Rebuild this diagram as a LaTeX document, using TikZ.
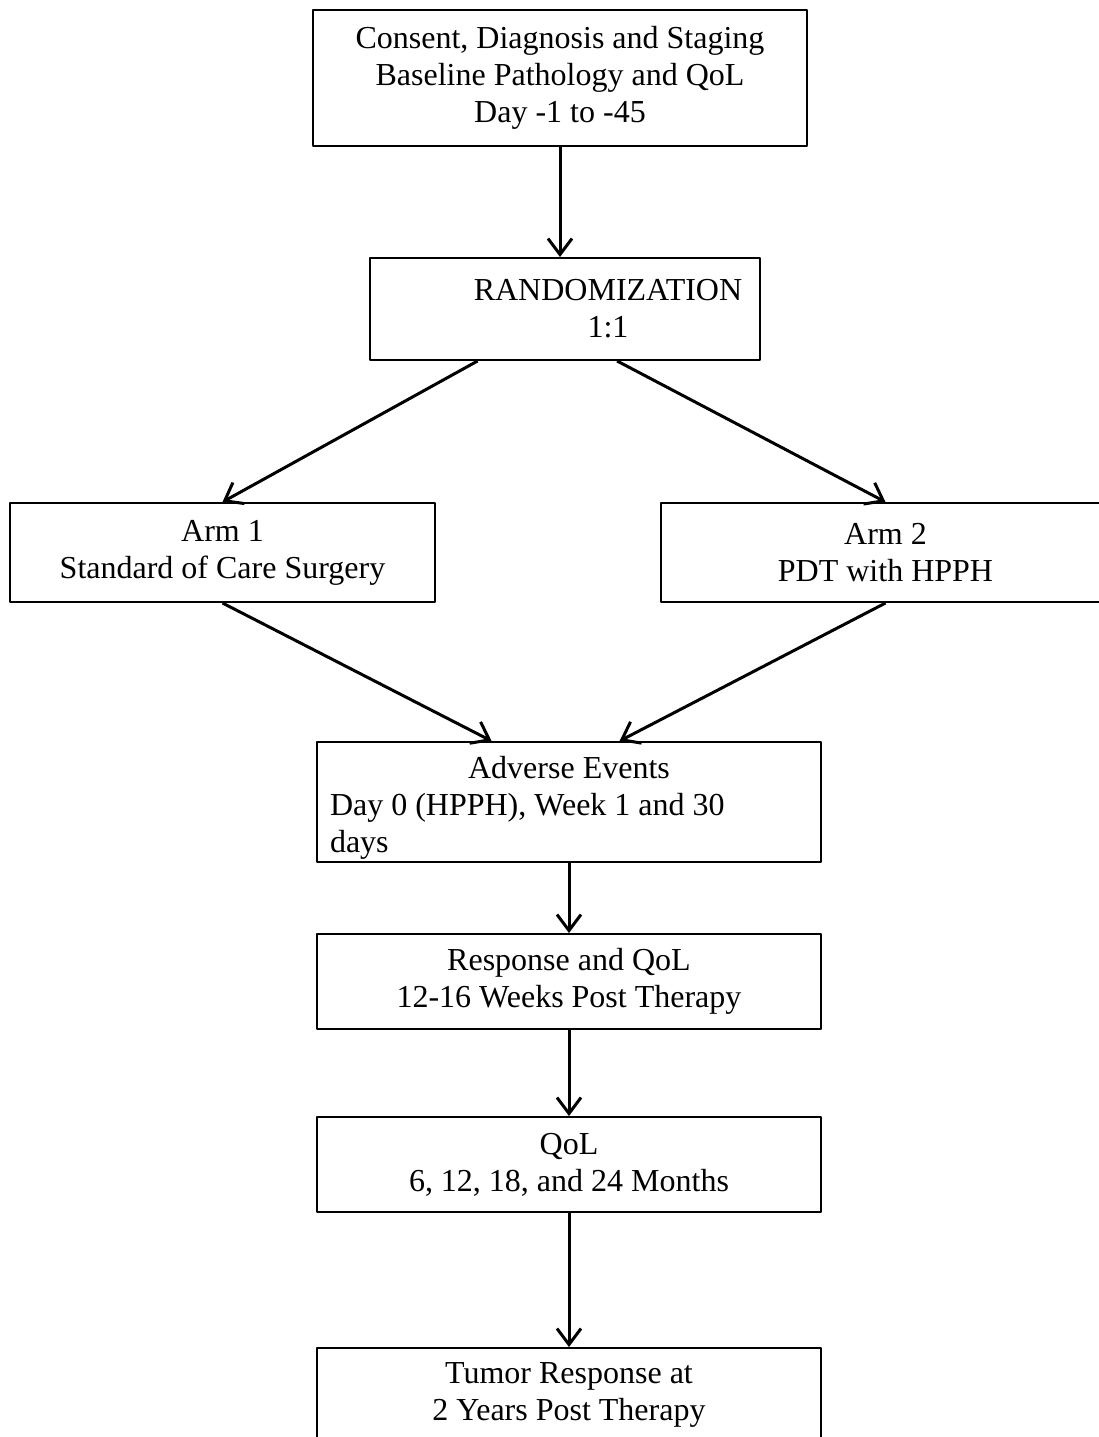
\documentclass[tikz,border=0pt]{standalone}
\usepackage{fontspec}
\setmainfont{Liberation Serif}
\usetikzlibrary{arrows.meta,calc,positioning}
\tikzset{box/.style={draw,line width=1pt,align=center,inner sep=0pt},
  flow/.style={-{Straight Barb[length=8pt,width=12pt]},line width=1.5pt}}

\begin{document}
\begin{tikzpicture}[x=0.5pt,y=-0.5pt,line join=round,font=\fontsize{16}{18.5}\selectfont]
\useasboundingbox (0,0) rectangle (1099,1437);
\clip (0,0) rectangle (1099,1437);
% --- consent and randomization
\node[box,minimum width=247pt,minimum height=68pt] (cons) at (560,78) {Consent, Diagnosis and Staging\\Baseline Pathology and QoL\\Day -1 to -45};
\node[box,minimum width=195pt,minimum height=51pt] (rand) at (565,309) {};
\node[align=center,inner sep=0pt] (randtxt) at ([xshift=21.5pt]rand.center) {RANDOMIZATION\\1:1};
\draw[flow] (cons.south) -- (cons.south |- rand.north);
% --- the two arms
\node[box,minimum width=212.5pt,minimum height=49.5pt] (arm1) at (222.5,552.5) {Arm 1\\Standard of Care Surgery};
\node[box,minimum width=224.5pt,minimum height=49.5pt] (arm2) at (885.5,552.5) {Arm 2\\PDT with HPPH};
\draw[flow] ($(rand.south west)!0.277!(rand.south east)$) -- (arm1.north);
\draw[flow] ($(rand.south west)!0.633!(rand.south east)$) -- (arm2.north);
% --- follow up
\node[box,align=flush left,text width=239pt,inner xsep=6.5pt,minimum height=60pt] (adv) at (569,802) {\makebox[\linewidth]{\rule{0pt}{17pt}Adverse Events}\\Day 0 (HPPH), Week 1 and 30\\days};
\draw[flow] (arm1.south) -- ($(adv.north west)!0.347!(adv.north east)$);
\draw[flow] (arm2.south) -- ($(adv.north west)!0.6!(adv.north east)$);
\node[box,minimum width=252pt,minimum height=47.5pt] (resp) at (569,981.5) {Response and QoL\\12-16 Weeks Post Therapy};
\node[box,minimum width=252pt,minimum height=47.5pt] (qol) at (569,1164.5) {QoL\\6, 12, 18, and 24 Months};
\node[box,minimum width=252pt,minimum height=47pt] (tumor) at (569,1395) {Tumor Response at\\2 Years Post Therapy};
\draw[flow] (adv.south) -- (resp.north);
\draw[flow] (resp.south) -- (qol.north);
\draw[flow] (qol.south) -- (tumor.north);
\end{tikzpicture}
\end{document}
